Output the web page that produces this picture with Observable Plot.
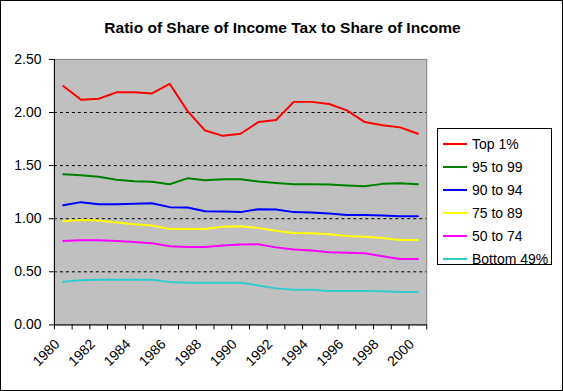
<!DOCTYPE html>
<html>
<head>
<meta charset="utf-8">
<script src="https://cdn.jsdelivr.net/npm/d3@7"></script>
<script src="https://cdn.jsdelivr.net/npm/@observablehq/plot@0.6"></script>
<style>
  html, body { margin: 0; padding: 0; background: #fff; }
  #wrap { position: relative; width: 563px; height: 391px; box-sizing: border-box; border: 1px solid #000; overflow: hidden; font-family: "Liberation Sans", Arial, sans-serif; }
  #chart { position: absolute; left: -1px; top: -1px; }
  #title { position: absolute; left: 0; width: 563px; top: 18px; text-align: center; font-weight: bold; font-size: 15.5px; color: #000; }
  #legend { position: absolute; left: 436px; top: 127px; width: 115px; height: 137px; border: 1px solid #000; box-sizing: border-box; background: #fff; padding-top: 3px; }
  .item { height: 23px; display: flex; align-items: center; font-size: 14px; color: #000; }
  .sw { width: 24px; height: 2px; margin-left: 5px; margin-right: 5px; }
</style>
</head>
<body>
<div id="wrap">
  <div id="chart"></div>
  <div id="title">Ratio of Share of Income Tax to Share of Income</div>
  <div id="legend"></div>
</div>
<script>
const years = [1980,1981,1982,1983,1984,1985,1986,1987,1988,1989,1990,1991,1992,1993,1994,1995,1996,1997,1998,1999,2000];
const seriesNames = ["Top 1%", "95 to 99", "90 to 94", "75 to 89", "50 to 74", "Bottom 49%"];
const seriesColors = ["#FF0000", "#008000", "#0000FF", "#FFFF00", "#FF00FF", "#33CCCC"];
const top1     = [2.25,2.12,2.13,2.19,2.19,2.18,2.27,2.015,1.83,1.78,1.80,1.91,1.93,2.10,2.10,2.08,2.02,1.91,1.88,1.86,1.80];
const p95to99  = [1.418,1.409,1.396,1.366,1.352,1.347,1.324,1.38,1.362,1.371,1.371,1.35,1.337,1.324,1.324,1.321,1.312,1.306,1.328,1.334,1.324];
const p90to94  = [1.127,1.156,1.137,1.137,1.14,1.146,1.109,1.106,1.071,1.068,1.062,1.09,1.087,1.062,1.059,1.05,1.034,1.034,1.031,1.024,1.024];
const p75to89  = [0.977,0.987,0.984,0.965,0.947,0.937,0.903,0.903,0.903,0.925,0.93,0.912,0.887,0.865,0.862,0.853,0.837,0.831,0.818,0.80,0.80];
const p50to74  = [0.79,0.797,0.797,0.79,0.78,0.77,0.74,0.734,0.734,0.747,0.756,0.76,0.73,0.71,0.70,0.684,0.68,0.675,0.647,0.62,0.62];
const bottom49 = [0.406,0.42,0.425,0.425,0.425,0.425,0.403,0.397,0.397,0.397,0.397,0.372,0.344,0.33,0.33,0.32,0.32,0.32,0.318,0.31,0.31];
const yTicks = [0, 0.5, 1, 1.5, 2, 2.5];
const gridValues = [0.5, 1, 1.5, 2];
const xLabelYears = [1980,1982,1984,1986,1988,1990,1992,1994,1996,1998,2000];

const allSeries = [top1, p95to99, p90to94, p75to89, p50to74, bottom49];
const rows = [];
allSeries.forEach((vals, si) => vals.forEach((v, i) => rows.push({year: years[i], value: v, series: seriesNames[si]})));
const bandEdges = d3.range(years[0] - 0.5, years[years.length - 1] + 1, 1);

const chart = Plot.plot({
  width: 563,
  height: 391,
  marginLeft: 54,
  marginRight: 136,
  marginTop: 59,
  marginBottom: 66,
  style: {fontFamily: '"Liberation Sans", Arial, sans-serif', fontSize: "14px", background: "transparent", color: "#000"},
  x: {domain: [years[0] - 0.5, years[years.length - 1] + 0.5]},
  y: {domain: [0, 2.5]},
  color: {domain: seriesNames, range: seriesColors},
  marks: [
    Plot.frame({fill: "#C0C0C0", stroke: "#808080"}),
    Plot.ruleY(gridValues, {stroke: "#000", strokeDasharray: "3,3", strokeWidth: 1}),
    Plot.line(rows, {x: "year", y: "value", z: "series", stroke: "series", strokeWidth: 2, curve: "linear"}),
    Plot.ruleX([years[0] - 0.5], {stroke: "#000"}),
    Plot.ruleY([0], {stroke: "#000"}),
    Plot.axisY({ticks: yTicks, tickFormat: d3.format(".2f"), tickSize: 5, tickPadding: 8, label: null, fontSize: 14}),
    Plot.axisX({ticks: bandEdges, tickFormat: () => "", tickSize: 5, label: null}),
    Plot.axisX({ticks: xLabelYears, tickFormat: d3.format("d"), tickSize: 0, tickPadding: 17, dx: -6, tickRotate: -45, label: null, fontSize: 14})
  ]
});
document.getElementById("chart").appendChild(chart);

const legend = document.getElementById("legend");
seriesNames.forEach((name, i) => {
  const item = document.createElement("div");
  item.className = "item";
  const sw = document.createElement("div");
  sw.className = "sw";
  sw.style.background = seriesColors[i];
  const t = document.createElement("span");
  t.textContent = name;
  item.appendChild(sw);
  item.appendChild(t);
  legend.appendChild(item);
});
</script>
</body>
</html>
